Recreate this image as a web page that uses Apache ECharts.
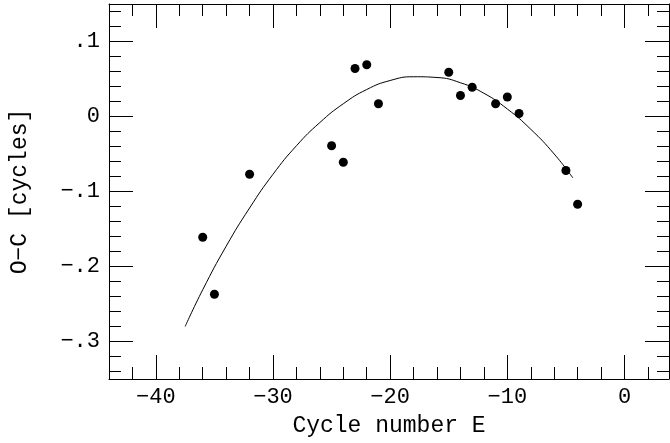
<!DOCTYPE html>
<html>
<head>
<meta charset="utf-8">
<script src="https://cdn.jsdelivr.net/npm/echarts@6/dist/echarts.min.js"></script>
<style>html,body{margin:0;padding:0;background:#fff;}#c{width:670px;height:443px;}</style>
</head>
<body>
<div id="c"></div>
<script>
// Observed points: cycle number E and O-C residual [cycles]
const cycleE = [-36, -35, -32, -25, -24, -23, -22, -21, -15, -14, -13, -11, -10, -9, -5, -4];
const residualOC = [-0.161, -0.237, -0.077, -0.039, -0.061, 0.064, 0.069, 0.017, 0.059, 0.028, 0.039, 0.017, 0.026, 0.004, -0.072, -0.117];

// Fitted curve
const fitE = [-37.5, -36, -34, -32, -30, -28, -26, -24, -22, -20, -18, -16, -14, -12, -10, -8, -6, -4.4];
const fitOC = [-0.280, -0.231, -0.173, -0.122, -0.077, -0.039, -0.008, 0.017, 0.036, 0.048, 0.053, 0.052, 0.045, 0.031, 0.010, -0.017, -0.050, -0.082];

// Ticks
const xMajorTicks = [-40, -30, -20, -10, 0];
const xMinorTicks = [-42, -38, -36, -34, -32, -28, -26, -24, -22, -18, -16, -14, -12, -8, -6, -4, -2, 2];
const yMajorTicks = [0.1, 0, -0.1, -0.2, -0.3];
const yMinorTicks = [0.14, 0.12, 0.08, 0.06, 0.04, 0.02, -0.02, -0.04, -0.06, -0.08, -0.12, -0.14, -0.16, -0.18, -0.22, -0.24, -0.26, -0.28, -0.32, -0.34];

const X_MIN = -44, X_MAX = 3.8, Y_MIN = -0.35, Y_MAX = 0.15;
const FONT = 'Liberation Mono';
const ink = '#000';

function xLabel(v) { return v < 0 ? '\u2212' + Math.abs(v) : String(v); }
function yLabel(v) {
  if (Math.abs(v) < 1e-9) return '0';
  const s = String(Math.abs(Math.round(v * 100) / 100)).replace(/^0/, '');
  return (v < 0 ? '\u2212' : '') + s;
}

function xAxisDef(pos, major, withLabel) {
  return {
    type: 'value', position: pos, min: X_MIN, max: X_MAX, gridIndex: 0,
    splitLine: { show: false },
    axisLine: { show: major, onZero: false, lineStyle: { color: ink, width: 1 } },
    axisTick: { show: true, inside: true, length: major ? 24 : 12, customValues: major ? xMajorTicks : xMinorTicks, lineStyle: { color: ink, width: 1 } },
    axisLabel: { show: withLabel, customValues: xMajorTicks, formatter: xLabel, color: ink, fontFamily: FONT, fontSize: 22, margin: 7 },
    name: withLabel ? 'Cycle number E' : '',
    nameLocation: 'middle', nameGap: 35,
    nameTextStyle: { color: ink, fontFamily: FONT, fontSize: 23 }
  };
}
function yAxisDef(pos, major, withLabel) {
  return {
    type: 'value', position: pos, min: Y_MIN, max: Y_MAX, gridIndex: 0,
    splitLine: { show: false },
    axisLine: { show: major, onZero: false, lineStyle: { color: ink, width: 1 } },
    axisTick: { show: true, inside: true, length: major ? 24 : 12, customValues: major ? yMajorTicks : yMinorTicks, lineStyle: { color: ink, width: 1 } },
    axisLabel: { show: withLabel, customValues: yMajorTicks, formatter: yLabel, color: ink, fontFamily: FONT, fontSize: 22, margin: 9 },
    name: withLabel ? 'O\u2212C [cycles]' : '',
    nameLocation: 'middle', nameGap: 78, nameRotate: 90,
    nameTextStyle: { color: ink, fontFamily: FONT, fontSize: 23 }
  };
}

const chart = echarts.init(document.getElementById('c'), null, { renderer: 'canvas' });
chart.setOption({
  animation: false,
  backgroundColor: '#fff',
  grid: { left: 109, right: 1, top: 4, bottom: 64, containLabel: false, outerBoundsMode: 'none' },
  xAxis: [
    xAxisDef('bottom', true, true),
    xAxisDef('bottom', false, false),
    xAxisDef('top', true, false),
    xAxisDef('top', false, false)
  ],
  yAxis: [
    yAxisDef('left', true, true),
    yAxisDef('left', false, false),
    yAxisDef('right', true, false),
    yAxisDef('right', false, false)
  ],
  series: [
    {
      type: 'line', xAxisIndex: 0, yAxisIndex: 0,
      data: fitE.map((e, i) => [e, fitOC[i]]),
      showSymbol: false, smooth: 0.5,
      lineStyle: { color: ink, width: 1 }
    },
    {
      type: 'scatter', xAxisIndex: 0, yAxisIndex: 0,
      data: cycleE.map((e, i) => [e, residualOC[i]]),
      symbol: 'circle', symbolSize: 9,
      itemStyle: { color: ink, opacity: 1 }
    }
  ]
});
</script>
</body>
</html>
